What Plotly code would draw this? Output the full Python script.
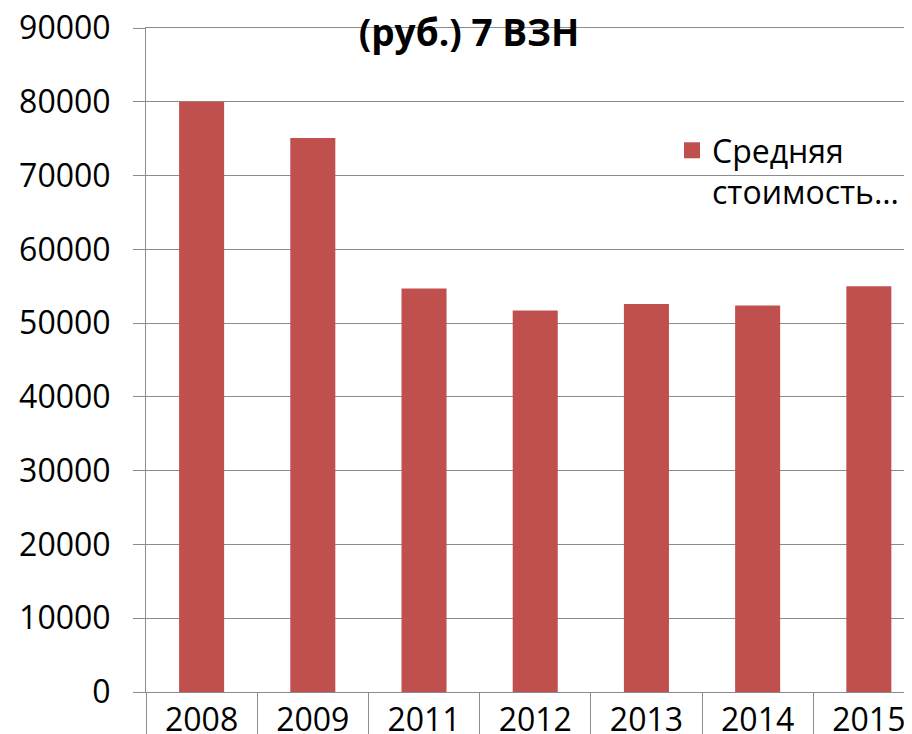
import plotly.graph_objects as go

years = ["2008", "2009", "2011", "2012", "2013", "2014", "2015"]
values = [80000, 75100, 54700, 51700, 52600, 52400, 55000]
series_name = "Средняя<br>стоимость…"
title_line1 = "Средняя стоимость квадратного метра"
title_line2 = "(руб.) 7 ВЗН"
y_ticks = [0, 10000, 20000, 30000, 40000, 50000, 60000, 70000, 80000, 90000]

BAR = "#C0504D"
GRID = "#8c8c8c"
FONT = "Open Sans"

L, T, B = 138, 20, 50
PW = 912 - L
PH = 734 - T - B

fig = go.Figure()
fig.add_trace(go.Bar(x=years, y=values, marker=dict(color=BAR, line=dict(width=0)),
                     showlegend=False, name=series_name))
fig.add_trace(go.Scatter(x=[None], y=[None], mode="markers", name=series_name,
                         marker=dict(symbol="square", size=22, color=BAR)))

fig.update_layout(
    width=912, height=734,
    margin=dict(l=L, r=0, t=T, b=B, autoexpand=False),
    paper_bgcolor="white", plot_bgcolor="white",
    font=dict(family=FONT, size=32, color="black"),
    bargap=0.595,
    title=dict(text="<b>" + title_line2 + "</b>", x=461 / 912, xanchor="center",
               xref="container", yref="container", y=1 - 25 / 734, yanchor="middle",
               font=dict(family=FONT, size=37, color="black")),
    legend=dict(x=(664 - L) / PW, xanchor="left", y=1 - (115 - T) / PH, yanchor="top",
                bgcolor="rgba(0,0,0,0)", font=dict(family=FONT, size=32, color="black"),
                valign="top"),
    xaxis=dict(type="category", range=[-0.5, 6.46], tickson="boundaries",
               ticks="outside", ticklen=50, tickcolor=GRID, tickwidth=1,
               showline=True, mirror=True, linecolor=GRID, linewidth=1, showgrid=False,
               automargin=False, ticklabeloverflow="allow", tickfont=dict(size=32)),
    yaxis=dict(range=[0, 90000], tickvals=y_ticks, ticktext=[str(v) for v in y_ticks],
               showgrid=True, gridcolor=GRID, gridwidth=1,
               ticks="outside", ticklen=12, tickcolor=GRID,
               showline=True, linecolor=GRID, linewidth=1, zeroline=False,
               automargin=False, ticklabeloverflow="allow",
               ticklabelstandoff=16, tickfont=dict(size=32)),
)
fig.add_annotation(text="<b>" + title_line1 + "</b>", xref="paper", yref="paper",
                   x=(461 - L) / PW, y=1, yanchor="bottom", yshift=22,
                   showarrow=False, font=dict(family=FONT, size=37, color="black"))

fig.write_html("out.html")
